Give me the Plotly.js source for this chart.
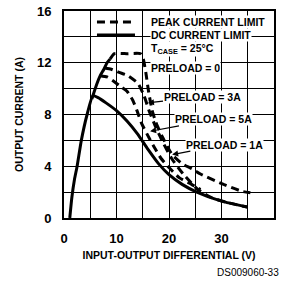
<!DOCTYPE html>
<html>
<head>
<meta charset="utf-8">
<script src="https://cdn.plot.ly/plotly-3.0.1.min.js"></script>
<style>html,body{margin:0;padding:0;background:#fff;}#chart{width:281px;height:283px;}</style>
</head>
<body>
<div id="chart"></div>
<script>
// DC current limit (solid): rising envelope then falling curve
const dcX = [1.1, 1.5, 2, 2.5, 3.3, 4.4, 5.5, 6.5, 8, 10, 12, 14, 16, 18, 20, 22.5, 25.3, 30, 34.9];
const dcY = [0, 1.6, 3, 4, 6, 8, 9.45, 9.3, 8.9, 8.3, 7.5, 6.5, 5.3, 4.2, 3.35, 2.6, 2.0, 1.3, 0.85];
// solid envelope continuing above the DC peak
const envX = [5.3, 6.2, 6.9, 7.6, 8.2, 8.8];
const envY = [9.2, 10.3, 11, 11.5, 12, 12.3];
// peak current limit, preload = 0 (dashed)
const p0X = [8.8, 9.6, 12, 14.6, 15.1, 15.6, 16.1, 16.8, 17.5, 18.7, 20.6, 22.5, 24.4, 26, 30.4, 34, 35.5];
const p0Y = [12.3, 12.7, 12.7, 12.7, 12.3, 11.2, 9.8, 8.3, 7.4, 6.3, 4.9, 4.2, 3.8, 3.4, 2.6, 2.05, 1.95];
// peak current limit, upper arc (dashed)
const p1X = [7.8, 9, 10.5, 12.2, 14.1, 15.2, 16.2, 17.5, 18.9, 20.5, 22.7, 25.5, 28, 31, 34.9];
const p1Y = [11.6, 11.5, 11.25, 11.0, 10.4, 9.5, 8.3, 7.0, 5.8, 4.6, 3.4, 2.2, 1.6, 1.2, 0.85];
// peak current limit, lower arc (dashed)
const p3X = [6.9, 8.2, 9.7, 11, 12, 13.1, 13.9, 14.8, 15.8, 17, 18.5, 20, 22, 24.3, 26];
const p3Y = [11.0, 10.9, 10.5, 10.1, 9.8, 9.1, 8.3, 7.3, 6.5, 5.6, 4.6, 3.9, 3.1, 2.6, 2.2];
// axis ticks
const xTickVals = [0, 10, 20, 30, 40];
const xTickText = ['0', '10', '20', '30', '40'];
const yTickVals = [0, 4, 8, 12, 16];
const yTickText = ['0', '4', '8', '12', '16'];
// texts
const legendTexts = ['PEAK CURRENT LIMIT', 'DC CURRENT LIMIT'];
const preloadLabels = ['PRELOAD = 0', 'PRELOAD = 3A', 'PRELOAD = 5A', 'PRELOAD = 1A'];
// arrow tips of the preload labels (data units)
const arrowTipX = [16.0, 16.4, 20.6];
const arrowTipY = [8.9, 6.7, 4.9];

const FONT = '"Liberation Sans Narrow", "Arial Narrow", "Liberation Sans", Arial, sans-serif';
const dashed = {color: '#000', width: 3, dash: '8px,5px'};
const solid = {color: '#000', width: 3};

const traces = [
  {x: dcX, y: dcY, mode: 'lines', line: solid, hoverinfo: 'skip'},
  {x: envX, y: envY, mode: 'lines', line: solid, hoverinfo: 'skip'},
  {x: p0X, y: p0Y, mode: 'lines', line: dashed, hoverinfo: 'skip'},
  {x: p1X, y: p1Y, mode: 'lines', line: dashed, hoverinfo: 'skip'},
  {x: p3X, y: p3Y, mode: 'lines', line: dashed, hoverinfo: 'skip'}
];
traces.forEach(t => { t.line = Object.assign({}, t.line, {shape: 'spline', smoothing: 0.5}); });

function lbl(text, x, y, size) {
  return {text: '<b>' + text + '</b>', xref: 'paper', yref: 'paper', x: x, y: y,
    xanchor: 'left', yanchor: 'middle', showarrow: false, bgcolor: '#fff',
    borderpad: 0, font: {family: FONT, size: size || 10.5, color: '#000'}};
}
function arrowLbl(text, tipX, tipY, ax, ay) {
  return {text: '<b>' + text + '</b>', xref: 'x', yref: 'y', x: tipX, y: tipY, ax: ax, ay: ay,
    showarrow: true, arrowhead: 2, arrowsize: 1, arrowwidth: 1.2, arrowcolor: '#000',
    bgcolor: '#fff', borderpad: 0, font: {family: FONT, size: 10.5, color: '#000'}};
}

const layout = {
  width: 281, height: 283,
  margin: {l: 64, r: 7, t: 11, b: 65},
  paper_bgcolor: '#fff', plot_bgcolor: '#fff',
  showlegend: false,
  font: {family: FONT, color: '#000'},
  xaxis: {
    range: [0, 40], tickvals: xTickVals, ticktext: xTickText,
    showgrid: true, gridcolor: '#000', gridwidth: 1, zeroline: false,
    minor: {dtick: 5, tick0: 0, showgrid: true, gridcolor: '#000', gridwidth: 1},
    showline: true, mirror: true, linecolor: '#000', linewidth: 2,
    ticks: 'outside', ticklen: 7, tickcolor: 'rgba(0,0,0,0)',
    tickfont: {family: FONT, size: 13, color: '#000', weight: 'bold'},
    title: {text: '<b>INPUT-OUTPUT DIFFERENTIAL (V)</b>', font: {family: FONT, size: 10.5, color: '#000'}, standoff: 7},
    fixedrange: true
  },
  yaxis: {
    range: [0, 16], tickvals: yTickVals, ticktext: yTickText,
    showgrid: true, gridcolor: '#000', gridwidth: 1, zeroline: false,
    minor: {dtick: 2, tick0: 0, showgrid: true, gridcolor: '#000', gridwidth: 1},
    showline: true, mirror: true, linecolor: '#000', linewidth: 2,
    ticks: 'outside', ticklen: 8, tickcolor: 'rgba(0,0,0,0)',
    tickfont: {family: FONT, size: 13, color: '#000', weight: 'bold'},
    title: {text: '<b>OUTPUT CURRENT (A)</b>', font: {family: FONT, size: 10.5, color: '#000'}, standoff: 11},
    fixedrange: true
  },
  shapes: [
    // white mask behind legend block
    {type: 'rect', xref: 'paper', yref: 'paper', x0: 0.128, x1: 0.995, y0: 0.795, y1: 0.995,
      fillcolor: '#fff', line: {width: 0}, layer: 'between'},
    // legend samples
    {type: 'line', xref: 'paper', yref: 'paper', x0: 0.157, x1: 0.338, y0: 0.947, y1: 0.947,
      line: {color: '#000', width: 3, dash: '8px,5px'}},
    {type: 'line', xref: 'paper', yref: 'paper', x0: 0.157, x1: 0.338, y0: 0.884, y1: 0.884,
      line: {color: '#000', width: 3}}
  ],
  annotations: [
    lbl(legendTexts[0], 0.41, 0.947),
    lbl(legendTexts[1], 0.41, 0.884),
    lbl('T<sub>CASE</sub> = 25°C', 0.41, 0.815),
    lbl(preloadLabels[0], 0.41, 0.725),
    arrowLbl(preloadLabels[1], arrowTipX[0], arrowTipY[0], 54, -6),
    arrowLbl(preloadLabels[2], arrowTipX[1], arrowTipY[1], 63, -12),
    arrowLbl(preloadLabels[3], arrowTipX[2], arrowTipY[2], 52, -10),
    {text: 'DS009060-33', xref: 'paper', yref: 'paper', x: 1.033, y: -0.262, xanchor: 'right', yanchor: 'middle',
      showarrow: false, font: {family: '"Liberation Sans", Arial, sans-serif', size: 10, color: '#000'}}
  ]
};

Plotly.newPlot('chart', traces, layout, {displayModeBar: false, staticPlot: true});
</script>
</body>
</html>
